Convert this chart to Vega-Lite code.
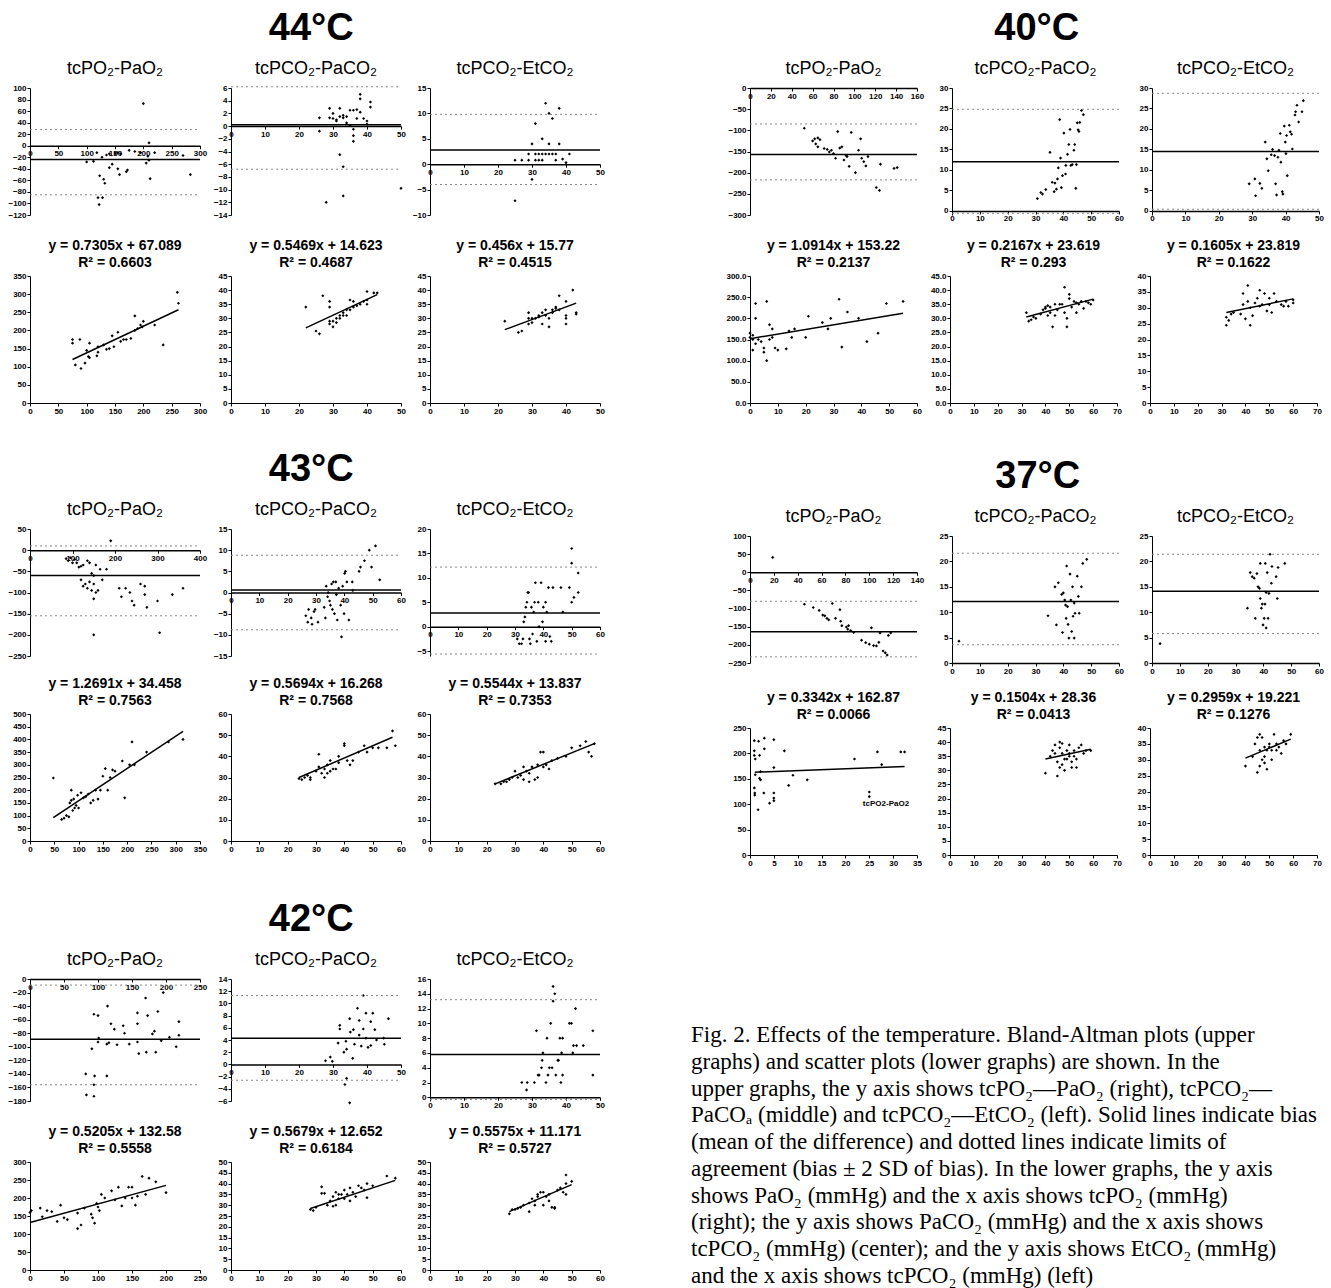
{
"$schema":"https://vega.github.io/schema/vega-lite/v6.json",
"background":"white",
"padding":{"left":7,"top":10,"right":3,"bottom":3},
"data":{"values":[
{"k":"a1","x":200,"y":73},{"k":"a1","x":100,"y":-28},{"k":"a1","x":112,"y":-27},{"k":"a1","x":118,"y":-12},{"k":"a1","x":123,"y":-52},{"k":"a1","x":127,"y":-20},{"k":"a1","x":130,"y":-58},{"k":"a1","x":132,"y":-65},{"k":"a1","x":120,"y":-90},{"k":"a1","x":128,"y":-90},{"k":"a1","x":122,"y":-102},{"k":"a1","x":140,"y":-38},{"k":"a1","x":145,"y":-32},{"k":"a1","x":150,"y":-14},{"k":"a1","x":155,"y":-12},{"k":"a1","x":160,"y":-14},{"k":"a1","x":155,"y":-40},{"k":"a1","x":158,"y":-50},{"k":"a1","x":170,"y":-45},{"k":"a1","x":172,"y":-42},{"k":"a1","x":175,"y":-8},{"k":"a1","x":185,"y":-10},{"k":"a1","x":195,"y":-12},{"k":"a1","x":210,"y":5},{"k":"a1","x":205,"y":-30},{"k":"a1","x":208,"y":-18},{"k":"a1","x":210,"y":-25},{"k":"a1","x":212,"y":-57},{"k":"a1","x":220,"y":-12},{"k":"a1","x":270,"y":-17},{"k":"a1","x":283,"y":-50},{"k":"a1","x":135,"y":-16},{"k":"a1","x":140,"y":-14},
{"k":"a1","t":"s","x":0,"y":-24,"x2":300,"y2":-24},{"k":"a1","t":"d","x":0,"y":28,"x2":300,"y2":28},{"k":"a1","t":"d","x":0,"y":-85,"x2":300,"y2":-85},
{"k":"a2","x":26,"y":1.3},{"k":"a2","x":26,"y":-0.8},{"k":"a2","x":29,"y":2.8},{"k":"a2","x":29,"y":1.3},{"k":"a2","x":30,"y":1.2},{"k":"a2","x":30,"y":2},{"k":"a2","x":31,"y":1},{"k":"a2","x":31,"y":0.8},{"k":"a2","x":32,"y":2.8},{"k":"a2","x":32,"y":1.5},{"k":"a2","x":33,"y":1.7},{"k":"a2","x":33,"y":1.3},{"k":"a2","x":34,"y":1.5},{"k":"a2","x":34,"y":0.5},{"k":"a2","x":35,"y":2.5},{"k":"a2","x":35,"y":0.1},{"k":"a2","x":36,"y":2.5},{"k":"a2","x":36,"y":-0.5},{"k":"a2","x":36,"y":-1.5},{"k":"a2","x":36,"y":-2.4},{"k":"a2","x":37,"y":2.6},{"k":"a2","x":37,"y":1.2},{"k":"a2","x":38,"y":5},{"k":"a2","x":38,"y":4.3},{"k":"a2","x":38,"y":2.2},{"k":"a2","x":39,"y":1.2},{"k":"a2","x":40,"y":0.8},{"k":"a2","x":40,"y":0.3},{"k":"a2","x":41,"y":3},{"k":"a2","x":41,"y":3.8},{"k":"a2","x":32,"y":-4.5},{"k":"a2","x":33,"y":-6.4},{"k":"a2","x":33,"y":-11},{"k":"a2","x":28,"y":-12},{"k":"a2","x":50,"y":-9.8},
{"k":"a2","t":"s","x":0,"y":0.2,"x2":50,"y2":0.2},{"k":"a2","t":"d","x":0,"y":6.2,"x2":50,"y2":6.2},{"k":"a2","t":"d","x":0,"y":-6.8,"x2":50,"y2":-6.8},
{"k":"a3","x":25,"y":0.8},{"k":"a3","x":25,"y":-7.2},{"k":"a3","x":27,"y":0.8},{"k":"a3","x":29,"y":0.8},{"k":"a3","x":29,"y":2},{"k":"a3","x":30,"y":4},{"k":"a3","x":30,"y":-3},{"k":"a3","x":31,"y":2},{"k":"a3","x":31,"y":8},{"k":"a3","x":31,"y":0.8},{"k":"a3","x":32,"y":2},{"k":"a3","x":33,"y":2},{"k":"a3","x":33,"y":0.8},{"k":"a3","x":33,"y":5},{"k":"a3","x":34,"y":2},{"k":"a3","x":34,"y":12},{"k":"a3","x":35,"y":2},{"k":"a3","x":35,"y":4},{"k":"a3","x":35,"y":10},{"k":"a3","x":36,"y":9},{"k":"a3","x":36,"y":2},{"k":"a3","x":37,"y":2},{"k":"a3","x":37,"y":0.8},{"k":"a3","x":38,"y":11},{"k":"a3","x":38,"y":4},{"k":"a3","x":39,"y":1},{"k":"a3","x":40,"y":0.3},{"k":"a3","x":41,"y":2},{"k":"a3","x":32,"y":0.8},
{"k":"a3","t":"s","x":0,"y":2.8,"x2":50,"y2":2.8},{"k":"a3","t":"d","x":0,"y":9.8,"x2":50,"y2":9.8},{"k":"a3","t":"d","x":0,"y":-4,"x2":50,"y2":-4},
{"k":"b1","x":75,"y":175},{"k":"b1","x":75,"y":165},{"k":"b1","x":88,"y":175},{"k":"b1","x":80,"y":105},{"k":"b1","x":90,"y":95},{"k":"b1","x":97,"y":110},{"k":"b1","x":100,"y":145},{"k":"b1","x":103,"y":128},{"k":"b1","x":105,"y":125},{"k":"b1","x":105,"y":165},{"k":"b1","x":118,"y":130},{"k":"b1","x":120,"y":140},{"k":"b1","x":120,"y":155},{"k":"b1","x":130,"y":160},{"k":"b1","x":135,"y":148},{"k":"b1","x":140,"y":150},{"k":"b1","x":145,"y":185},{"k":"b1","x":148,"y":155},{"k":"b1","x":155,"y":195},{"k":"b1","x":160,"y":170},{"k":"b1","x":165,"y":175},{"k":"b1","x":178,"y":178},{"k":"b1","x":185,"y":240},{"k":"b1","x":185,"y":200},{"k":"b1","x":190,"y":205},{"k":"b1","x":195,"y":215},{"k":"b1","x":200,"y":225},{"k":"b1","x":220,"y":215},{"k":"b1","x":235,"y":160},{"k":"b1","x":260,"y":305},{"k":"b1","x":262,"y":275},{"k":"b1","x":198,"y":210},{"k":"b1","x":170,"y":175},
{"k":"b1","t":"s","x":75,"y":120,"x2":262,"y2":257},
{"k":"b2","x":22,"y":34},{"k":"b2","x":25,"y":25.5},{"k":"b2","x":26,"y":24.5},{"k":"b2","x":27,"y":38},{"k":"b2","x":29,"y":36},{"k":"b2","x":29,"y":34},{"k":"b2","x":29,"y":29},{"k":"b2","x":29,"y":28},{"k":"b2","x":30,"y":27},{"k":"b2","x":30,"y":29},{"k":"b2","x":31,"y":28.5},{"k":"b2","x":31,"y":30},{"k":"b2","x":32,"y":31},{"k":"b2","x":32,"y":30},{"k":"b2","x":33,"y":31},{"k":"b2","x":33,"y":32},{"k":"b2","x":34,"y":33},{"k":"b2","x":34,"y":31},{"k":"b2","x":35,"y":36.5},{"k":"b2","x":35,"y":33},{"k":"b2","x":36,"y":36},{"k":"b2","x":36,"y":34},{"k":"b2","x":37,"y":34.5},{"k":"b2","x":38,"y":35},{"k":"b2","x":39,"y":36},{"k":"b2","x":40,"y":35},{"k":"b2","x":40,"y":39.5},{"k":"b2","x":40,"y":36.5},{"k":"b2","x":42,"y":39},{"k":"b2","x":43,"y":39},
{"k":"b2","t":"s","x":22,"y":26.6,"x2":43,"y2":38.4},
{"k":"b3","x":22,"y":29},{"k":"b3","x":26,"y":25},{"k":"b3","x":27,"y":25.5},{"k":"b3","x":29,"y":32},{"k":"b3","x":29,"y":30},{"k":"b3","x":29,"y":28},{"k":"b3","x":30,"y":28.5},{"k":"b3","x":30,"y":30},{"k":"b3","x":31,"y":30},{"k":"b3","x":32,"y":31},{"k":"b3","x":32,"y":30.5},{"k":"b3","x":33,"y":32},{"k":"b3","x":33,"y":28},{"k":"b3","x":34,"y":31},{"k":"b3","x":34,"y":33},{"k":"b3","x":35,"y":27},{"k":"b3","x":35,"y":30},{"k":"b3","x":36,"y":33},{"k":"b3","x":37,"y":34},{"k":"b3","x":38,"y":38},{"k":"b3","x":38,"y":33},{"k":"b3","x":40,"y":36},{"k":"b3","x":40,"y":31},{"k":"b3","x":40,"y":30},{"k":"b3","x":40,"y":28},{"k":"b3","x":42,"y":40},{"k":"b3","x":43,"y":32},{"k":"b3","x":43,"y":31.5},{"k":"b3","x":36,"y":32},{"k":"b3","x":37,"y":33.5},
{"k":"b3","t":"s","x":22,"y":26,"x2":43,"y2":35.4},
{"k":"c1","x":190,"y":22},{"k":"c1","x":85,"y":-20},{"k":"c1","x":90,"y":-25},{"k":"c1","x":95,"y":-18},{"k":"c1","x":100,"y":-30},{"k":"c1","x":105,"y":-22},{"k":"c1","x":110,"y":-30},{"k":"c1","x":115,"y":-40},{"k":"c1","x":120,"y":-38},{"k":"c1","x":125,"y":-35},{"k":"c1","x":135,"y":-25},{"k":"c1","x":140,"y":-30},{"k":"c1","x":145,"y":-55},{"k":"c1","x":150,"y":-60},{"k":"c1","x":155,"y":-35},{"k":"c1","x":165,"y":-45},{"k":"c1","x":180,"y":-45},{"k":"c1","x":120,"y":-70},{"k":"c1","x":125,"y":-85},{"k":"c1","x":130,"y":-80},{"k":"c1","x":135,"y":-90},{"k":"c1","x":140,"y":-75},{"k":"c1","x":145,"y":-95},{"k":"c1","x":150,"y":-80},{"k":"c1","x":155,"y":-100},{"k":"c1","x":160,"y":-95},{"k":"c1","x":170,"y":-70},{"k":"c1","x":150,"y":-115},{"k":"c1","x":150,"y":-200},{"k":"c1","x":210,"y":-90},{"k":"c1","x":215,"y":-110},{"k":"c1","x":225,"y":-90},{"k":"c1","x":235,"y":-100},{"k":"c1","x":240,"y":-120},{"k":"c1","x":245,"y":-130},{"k":"c1","x":260,"y":-80},{"k":"c1","x":270,"y":-85},{"k":"c1","x":270,"y":-105},{"k":"c1","x":275,"y":-135},{"k":"c1","x":300,"y":-120},{"k":"c1","x":305,"y":-195},{"k":"c1","x":335,"y":-105},{"k":"c1","x":360,"y":-90},
{"k":"c1","t":"s","x":0,"y":-60,"x2":400,"y2":-60},{"k":"c1","t":"d","x":0,"y":10,"x2":400,"y2":10},{"k":"c1","t":"d","x":0,"y":-155,"x2":400,"y2":-155},
{"k":"c2","x":26.4,"y":-5.5},{"k":"c2","x":27.1,"y":-7},{"k":"c2","x":27.4,"y":-4},{"k":"c2","x":28.3,"y":-6},{"k":"c2","x":28.6,"y":-7.5},{"k":"c2","x":29.3,"y":-4.5},{"k":"c2","x":29.7,"y":-4},{"k":"c2","x":30.7,"y":-7},{"k":"c2","x":32.9,"y":-3.5},{"k":"c2","x":33.3,"y":-6},{"k":"c2","x":33.6,"y":1.5},{"k":"c2","x":34.1,"y":-1},{"k":"c2","x":34.3,"y":0},{"k":"c2","x":34.8,"y":-2},{"k":"c2","x":35.1,"y":-3},{"k":"c2","x":35.5,"y":2},{"k":"c2","x":35.8,"y":-4},{"k":"c2","x":36.1,"y":2.5},{"k":"c2","x":36.5,"y":-5},{"k":"c2","x":37,"y":2.5},{"k":"c2","x":37.2,"y":-0.5},{"k":"c2","x":37.5,"y":-6.5},{"k":"c2","x":38,"y":1},{"k":"c2","x":38.7,"y":-3},{"k":"c2","x":39,"y":-10.5},{"k":"c2","x":39.9,"y":-5},{"k":"c2","x":40.1,"y":4.5},{"k":"c2","x":40.4,"y":5},{"k":"c2","x":40.9,"y":2.5},{"k":"c2","x":41.6,"y":-6.5},{"k":"c2","x":42.8,"y":2.5},{"k":"c2","x":45.2,"y":5},{"k":"c2","x":45.7,"y":6},{"k":"c2","x":47.1,"y":7.5},{"k":"c2","x":48.8,"y":10},{"k":"c2","x":49.6,"y":6},{"k":"c2","x":51,"y":11},{"k":"c2","x":52.5,"y":3},{"k":"c2","x":43,"y":0.5},{"k":"c2","x":39.4,"y":1.5},
{"k":"c2","t":"s","x":0,"y":0.6,"x2":60,"y2":0.6},{"k":"c2","t":"d","x":0,"y":8.8,"x2":60,"y2":8.8},{"k":"c2","t":"d","x":0,"y":-8.8,"x2":60,"y2":-8.8},
{"k":"c3","x":30.8,"y":-2.5},{"k":"c3","x":31.5,"y":-3.5},{"k":"c3","x":32.3,"y":-3.5},{"k":"c3","x":32.8,"y":-2.5},{"k":"c3","x":33.1,"y":1},{"k":"c3","x":33.5,"y":2},{"k":"c3","x":33.8,"y":4},{"k":"c3","x":34.2,"y":5},{"k":"c3","x":34.5,"y":7},{"k":"c3","x":34.8,"y":7},{"k":"c3","x":35.1,"y":-2.5},{"k":"c3","x":35.4,"y":-3.5},{"k":"c3","x":35.8,"y":4},{"k":"c3","x":36.2,"y":-1.5},{"k":"c3","x":36.6,"y":3},{"k":"c3","x":36.9,"y":5},{"k":"c3","x":37.2,"y":9},{"k":"c3","x":37.7,"y":-3},{"k":"c3","x":38.2,"y":5},{"k":"c3","x":38.5,"y":0},{"k":"c3","x":39.2,"y":9},{"k":"c3","x":39.7,"y":1},{"k":"c3","x":40,"y":4},{"k":"c3","x":40.8,"y":5},{"k":"c3","x":41.2,"y":3},{"k":"c3","x":41.8,"y":8},{"k":"c3","x":42.3,"y":-2},{"k":"c3","x":42.8,"y":-3},{"k":"c3","x":43.4,"y":8},{"k":"c3","x":46.2,"y":8},{"k":"c3","x":46.9,"y":3},{"k":"c3","x":49.2,"y":8},{"k":"c3","x":50,"y":5},{"k":"c3","x":50.8,"y":6},{"k":"c3","x":52.3,"y":7},{"k":"c3","x":52.3,"y":11},{"k":"c3","x":50,"y":13},{"k":"c3","x":50,"y":16},{"k":"c3","x":40.8,"y":-3},
{"k":"c3","t":"s","x":0,"y":2.8,"x2":60,"y2":2.8},{"k":"c3","t":"d","x":0,"y":12.2,"x2":60,"y2":12.2},{"k":"c3","t":"d","x":0,"y":-5.6,"x2":60,"y2":-5.6},
{"k":"d1","x":48,"y":248},{"k":"d1","x":65,"y":85},{"k":"d1","x":70,"y":90},{"k":"d1","x":75,"y":100},{"k":"d1","x":80,"y":95},{"k":"d1","x":82,"y":150},{"k":"d1","x":85,"y":160},{"k":"d1","x":85,"y":200},{"k":"d1","x":88,"y":120},{"k":"d1","x":90,"y":165},{"k":"d1","x":92,"y":130},{"k":"d1","x":95,"y":140},{"k":"d1","x":98,"y":180},{"k":"d1","x":100,"y":130},{"k":"d1","x":105,"y":190},{"k":"d1","x":110,"y":170},{"k":"d1","x":115,"y":175},{"k":"d1","x":120,"y":185},{"k":"d1","x":125,"y":150},{"k":"d1","x":130,"y":160},{"k":"d1","x":135,"y":200},{"k":"d1","x":140,"y":165},{"k":"d1","x":145,"y":200},{"k":"d1","x":150,"y":255},{"k":"d1","x":155,"y":285},{"k":"d1","x":160,"y":200},{"k":"d1","x":165,"y":250},{"k":"d1","x":170,"y":280},{"k":"d1","x":175,"y":275},{"k":"d1","x":190,"y":315},{"k":"d1","x":195,"y":170},{"k":"d1","x":205,"y":300},{"k":"d1","x":210,"y":390},{"k":"d1","x":215,"y":300},{"k":"d1","x":240,"y":350},{"k":"d1","x":285,"y":390},{"k":"d1","x":315,"y":400},
{"k":"d1","t":"s","x":48,"y":92,"x2":315,"y2":432},
{"k":"d2","x":24,"y":29.5},{"k":"d2","x":25,"y":29},{"k":"d2","x":26,"y":30},{"k":"d2","x":27,"y":31},{"k":"d2","x":28,"y":30},{"k":"d2","x":28,"y":29},{"k":"d2","x":30,"y":33},{"k":"d2","x":31,"y":35},{"k":"d2","x":31,"y":41},{"k":"d2","x":32,"y":32},{"k":"d2","x":33,"y":34},{"k":"d2","x":33,"y":30},{"k":"d2","x":34,"y":36},{"k":"d2","x":34,"y":32},{"k":"d2","x":35,"y":38},{"k":"d2","x":35,"y":33},{"k":"d2","x":36,"y":34},{"k":"d2","x":37,"y":34},{"k":"d2","x":38,"y":37},{"k":"d2","x":38,"y":40},{"k":"d2","x":40,"y":46},{"k":"d2","x":40,"y":45},{"k":"d2","x":41,"y":38},{"k":"d2","x":42,"y":36},{"k":"d2","x":43,"y":38},{"k":"d2","x":45,"y":42},{"k":"d2","x":47,"y":45},{"k":"d2","x":48,"y":42},{"k":"d2","x":50,"y":44},{"k":"d2","x":52,"y":44},{"k":"d2","x":55,"y":44},{"k":"d2","x":57,"y":52},{"k":"d2","x":58,"y":45},
{"k":"d2","t":"s","x":24,"y":30,"x2":57,"y2":49},
{"k":"d3","x":23,"y":27},{"k":"d3","x":25,"y":27},{"k":"d3","x":26,"y":28},{"k":"d3","x":27,"y":28},{"k":"d3","x":28,"y":29},{"k":"d3","x":29,"y":30},{"k":"d3","x":30,"y":33},{"k":"d3","x":31,"y":30},{"k":"d3","x":32,"y":31},{"k":"d3","x":33,"y":29},{"k":"d3","x":33,"y":35},{"k":"d3","x":34,"y":33},{"k":"d3","x":35,"y":28},{"k":"d3","x":35,"y":32},{"k":"d3","x":36,"y":35},{"k":"d3","x":37,"y":29},{"k":"d3","x":38,"y":30},{"k":"d3","x":38,"y":36},{"k":"d3","x":39,"y":42},{"k":"d3","x":40,"y":42},{"k":"d3","x":40,"y":35},{"k":"d3","x":41,"y":36},{"k":"d3","x":42,"y":34},{"k":"d3","x":43,"y":38},{"k":"d3","x":45,"y":39},{"k":"d3","x":48,"y":40},{"k":"d3","x":50,"y":44},{"k":"d3","x":53,"y":45},{"k":"d3","x":55,"y":47},{"k":"d3","x":56,"y":42},{"k":"d3","x":57,"y":40},{"k":"d3","x":58,"y":46},
{"k":"d3","t":"s","x":23,"y":27,"x2":58,"y2":46},
{"k":"e1","x":94,"y":-52},{"k":"e1","x":100,"y":-54},{"k":"e1","x":114,"y":-40},{"k":"e1","x":119,"y":-66},{"k":"e1","x":124,"y":-74},{"k":"e1","x":137,"y":-69},{"k":"e1","x":139,"y":-80},{"k":"e1","x":158,"y":-50},{"k":"e1","x":158,"y":-66},{"k":"e1","x":170,"y":-28},{"k":"e1","x":173,"y":-54},{"k":"e1","x":180,"y":-81},{"k":"e1","x":183,"y":-77},{"k":"e1","x":188,"y":-48},{"k":"e1","x":196,"y":-20},{"k":"e1","x":219,"y":-63},{"k":"e1","x":91,"y":-103},{"k":"e1","x":100,"y":-93},{"k":"e1","x":101,"y":-87},{"k":"e1","x":113,"y":-96},{"k":"e1","x":116,"y":-94},{"k":"e1","x":128,"y":-97},{"k":"e1","x":146,"y":-96},{"k":"e1","x":158,"y":-93},{"k":"e1","x":160,"y":-110},{"k":"e1","x":171,"y":-108},{"k":"e1","x":185,"y":-108},{"k":"e1","x":193,"y":-91},{"k":"e1","x":205,"y":-86},{"k":"e1","x":215,"y":-100},{"k":"e1","x":219,"y":-83},{"k":"e1","x":82,"y":-140},{"k":"e1","x":95,"y":-143},{"k":"e1","x":113,"y":-143},{"k":"e1","x":94,"y":-156},{"k":"e1","x":83,"y":-171},{"k":"e1","x":94,"y":-173},
{"k":"e1","t":"s","x":0,"y":-89,"x2":250,"y2":-89},{"k":"e1","t":"d","x":0,"y":-9,"x2":250,"y2":-9},{"k":"e1","t":"d","x":0,"y":-156,"x2":250,"y2":-156},
{"k":"e2","x":27.8,"y":0.6},{"k":"e2","x":29.2,"y":1.2},{"k":"e2","x":29.8,"y":0.5},{"k":"e2","x":31.5,"y":3.5},{"k":"e2","x":32,"y":5.8},{"k":"e2","x":32,"y":6.4},{"k":"e2","x":33.2,"y":2},{"k":"e2","x":33.8,"y":3.8},{"k":"e2","x":34,"y":2.5},{"k":"e2","x":34.9,"y":7.5},{"k":"e2","x":35.1,"y":5.3},{"k":"e2","x":36,"y":5.7},{"k":"e2","x":35.8,"y":1},{"k":"e2","x":37.2,"y":9.2},{"k":"e2","x":36.3,"y":3.3},{"k":"e2","x":37.7,"y":4.8},{"k":"e2","x":37.7,"y":7.2},{"k":"e2","x":38.3,"y":3},{"k":"e2","x":38.9,"y":5.8},{"k":"e2","x":39.7,"y":8.4},{"k":"e2","x":39.7,"y":4.3},{"k":"e2","x":40.3,"y":2.8},{"k":"e2","x":41.1,"y":7},{"k":"e2","x":41.1,"y":3.1},{"k":"e2","x":41.7,"y":8.4},{"k":"e2","x":42.3,"y":5.7},{"k":"e2","x":42.8,"y":4},{"k":"e2","x":38.9,"y":11.3},{"k":"e2","x":44.9,"y":4.3},{"k":"e2","x":45.1,"y":3.3},{"k":"e2","x":46.3,"y":7.5},{"k":"e2","x":34,"y":-2.3},{"k":"e2","x":33.5,"y":-3.3},{"k":"e2","x":34.9,"y":-6.3},
{"k":"e2","t":"s","x":0,"y":4.3,"x2":50,"y2":4.3},{"k":"e2","t":"d","x":0,"y":11.3,"x2":50,"y2":11.3},{"k":"e2","t":"d","x":0,"y":-2.6,"x2":50,"y2":-2.6},
{"k":"e3","x":27,"y":2},{"k":"e3","x":28.4,"y":1},{"k":"e3","x":28.6,"y":2},{"k":"e3","x":30.7,"y":2},{"k":"e3","x":31.3,"y":9},{"k":"e3","x":31.8,"y":3},{"k":"e3","x":32.1,"y":3},{"k":"e3","x":32.8,"y":4},{"k":"e3","x":33,"y":5},{"k":"e3","x":33.2,"y":6},{"k":"e3","x":34.1,"y":2},{"k":"e3","x":34.4,"y":8},{"k":"e3","x":34.7,"y":3},{"k":"e3","x":35.1,"y":4},{"k":"e3","x":35.5,"y":10},{"k":"e3","x":35.9,"y":4},{"k":"e3","x":36.2,"y":13},{"k":"e3","x":36.2,"y":15},{"k":"e3","x":36.7,"y":14},{"k":"e3","x":37,"y":3},{"k":"e3","x":37.6,"y":5},{"k":"e3","x":37.8,"y":5},{"k":"e3","x":38.2,"y":8},{"k":"e3","x":38.5,"y":2},{"k":"e3","x":38.7,"y":6},{"k":"e3","x":39,"y":8},{"k":"e3","x":39,"y":3},{"k":"e3","x":41,"y":10},{"k":"e3","x":41.6,"y":10},{"k":"e3","x":42,"y":6},{"k":"e3","x":42.2,"y":7},{"k":"e3","x":42.8,"y":12},{"k":"e3","x":43.1,"y":7},{"k":"e3","x":45.1,"y":7},{"k":"e3","x":47.9,"y":3},{"k":"e3","x":47.9,"y":9},
{"k":"e3","t":"s","x":0,"y":5.8,"x2":50,"y2":5.8},{"k":"e3","t":"d","x":0,"y":13.2,"x2":50,"y2":13.2},{"k":"e3","t":"d","x":0,"y":-0.3,"x2":50,"y2":-0.3},
{"k":"f1","x":0,"y":160},{"k":"f1","x":2,"y":165},{"k":"f1","x":15,"y":172},{"k":"f1","x":18,"y":148},{"k":"f1","x":25,"y":165},{"k":"f1","x":32,"y":162},{"k":"f1","x":45,"y":180},{"k":"f1","x":40,"y":135},{"k":"f1","x":50,"y":145},{"k":"f1","x":55,"y":140},{"k":"f1","x":70,"y":115},{"k":"f1","x":75,"y":125},{"k":"f1","x":70,"y":158},{"k":"f1","x":80,"y":172},{"k":"f1","x":90,"y":155},{"k":"f1","x":92,"y":145},{"k":"f1","x":95,"y":130},{"k":"f1","x":98,"y":185},{"k":"f1","x":100,"y":175},{"k":"f1","x":102,"y":165},{"k":"f1","x":105,"y":210},{"k":"f1","x":110,"y":200},{"k":"f1","x":120,"y":220},{"k":"f1","x":125,"y":195},{"k":"f1","x":130,"y":230},{"k":"f1","x":135,"y":178},{"k":"f1","x":140,"y":200},{"k":"f1","x":145,"y":230},{"k":"f1","x":150,"y":230},{"k":"f1","x":155,"y":180},{"k":"f1","x":158,"y":205},{"k":"f1","x":165,"y":260},{"k":"f1","x":170,"y":210},{"k":"f1","x":175,"y":255},{"k":"f1","x":185,"y":245},{"k":"f1","x":200,"y":215},{"k":"f1","x":150,"y":200},
{"k":"f1","t":"s","x":0,"y":132,"x2":200,"y2":235},
{"k":"f2","x":28,"y":28},{"k":"f2","x":29,"y":27.5},{"k":"f2","x":30,"y":29},{"k":"f2","x":32,"y":38.5},{"k":"f2","x":32,"y":35.5},{"k":"f2","x":33,"y":35.5},{"k":"f2","x":34,"y":30},{"k":"f2","x":35,"y":32},{"k":"f2","x":36,"y":29.5},{"k":"f2","x":36,"y":34},{"k":"f2","x":37,"y":36},{"k":"f2","x":37,"y":30},{"k":"f2","x":38,"y":33},{"k":"f2","x":38,"y":35},{"k":"f2","x":39,"y":35},{"k":"f2","x":40,"y":33},{"k":"f2","x":40,"y":37},{"k":"f2","x":41,"y":35},{"k":"f2","x":42,"y":32},{"k":"f2","x":42,"y":38},{"k":"f2","x":43,"y":36},{"k":"f2","x":44,"y":34},{"k":"f2","x":45,"y":39},{"k":"f2","x":46,"y":38},{"k":"f2","x":47,"y":37},{"k":"f2","x":48,"y":40},{"k":"f2","x":48,"y":33.5},{"k":"f2","x":50,"y":39},{"k":"f2","x":55,"y":43.5},{"k":"f2","x":58,"y":42.5},
{"k":"f2","t":"s","x":28,"y":28.5,"x2":58,"y2":41.5},
{"k":"f3","x":28,"y":26},{"k":"f3","x":29,"y":28},{"k":"f3","x":30,"y":28},{"k":"f3","x":31,"y":28.5},{"k":"f3","x":32,"y":29},{"k":"f3","x":33,"y":30},{"k":"f3","x":35,"y":31},{"k":"f3","x":35,"y":27},{"k":"f3","x":36,"y":33},{"k":"f3","x":37,"y":32},{"k":"f3","x":37,"y":30},{"k":"f3","x":38,"y":34},{"k":"f3","x":38,"y":35},{"k":"f3","x":39,"y":36},{"k":"f3","x":40,"y":36},{"k":"f3","x":40,"y":30},{"k":"f3","x":41,"y":34},{"k":"f3","x":42,"y":32},{"k":"f3","x":42,"y":35},{"k":"f3","x":43,"y":29},{"k":"f3","x":44,"y":29},{"k":"f3","x":44,"y":28.5},{"k":"f3","x":45,"y":37},{"k":"f3","x":46,"y":38},{"k":"f3","x":47,"y":36},{"k":"f3","x":48,"y":35},{"k":"f3","x":48,"y":44},{"k":"f3","x":48,"y":40},{"k":"f3","x":50,"y":41},
{"k":"f3","t":"s","x":28,"y":27,"x2":50,"y2":39.5},
{"k":"g1","x":52,"y":-95},{"k":"g1","x":60,"y":-125},{"k":"g1","x":62,"y":-120},{"k":"g1","x":63,"y":-132},{"k":"g1","x":65,"y":-118},{"k":"g1","x":65,"y":-139},{"k":"g1","x":67,"y":-122},{"k":"g1","x":71,"y":-143},{"k":"g1","x":74,"y":-145},{"k":"g1","x":76,"y":-151},{"k":"g1","x":78,"y":-147},{"k":"g1","x":80,"y":-155},{"k":"g1","x":82,"y":-166},{"k":"g1","x":84,"y":-103},{"k":"g1","x":86,"y":-142},{"k":"g1","x":88,"y":-139},{"k":"g1","x":90,"y":-170},{"k":"g1","x":92,"y":-159},{"k":"g1","x":93,"y":-162},{"k":"g1","x":95,"y":-185},{"k":"g1","x":97,"y":-105},{"k":"g1","x":101,"y":-200},{"k":"g1","x":104,"y":-147},{"k":"g1","x":106,"y":-120},{"k":"g1","x":107,"y":-166},{"k":"g1","x":109,"y":-174},{"k":"g1","x":111,"y":-184},{"k":"g1","x":113,"y":-162},{"k":"g1","x":121,"y":-235},{"k":"g1","x":124,"y":-242},{"k":"g1","x":125,"y":-180},{"k":"g1","x":138,"y":-190},{"k":"g1","x":141,"y":-188},
{"k":"g1","t":"s","x":0,"y":-157,"x2":160,"y2":-157},{"k":"g1","t":"d","x":0,"y":-85,"x2":160,"y2":-85},{"k":"g1","t":"d","x":0,"y":-217,"x2":160,"y2":-217},
{"k":"g2","x":30.7,"y":3},{"k":"g2","x":31.9,"y":4.5},{"k":"g2","x":32.5,"y":4.1},{"k":"g2","x":33.7,"y":5.2},{"k":"g2","x":35.2,"y":14.3},{"k":"g2","x":36,"y":7},{"k":"g2","x":36.7,"y":4.7},{"k":"g2","x":37,"y":6.8},{"k":"g2","x":37.5,"y":5.3},{"k":"g2","x":37.9,"y":7.8},{"k":"g2","x":38.2,"y":10.5},{"k":"g2","x":39,"y":12.9},{"k":"g2","x":38.7,"y":22.3},{"k":"g2","x":39.3,"y":5.7},{"k":"g2","x":39.7,"y":8.6},{"k":"g2","x":40.2,"y":19},{"k":"g2","x":40.8,"y":9},{"k":"g2","x":40.9,"y":11.1},{"k":"g2","x":41.5,"y":13.8},{"k":"g2","x":42,"y":16.2},{"k":"g2","x":42.4,"y":19.9},{"k":"g2","x":42.7,"y":11.1},{"k":"g2","x":43.2,"y":11.3},{"k":"g2","x":43.8,"y":14.8},{"k":"g2","x":44.1,"y":16.2},{"k":"g2","x":44.5,"y":5.5},{"k":"g2","x":44.7,"y":11.3},{"k":"g2","x":45,"y":21.5},{"k":"g2","x":45.3,"y":19.8},{"k":"g2","x":45.6,"y":19.4},{"k":"g2","x":45.9,"y":21.6},{"k":"g2","x":46.5,"y":24.5},{"k":"g2","x":47.2,"y":23.5},
{"k":"g2","t":"s","x":0,"y":12,"x2":60,"y2":12},{"k":"g2","t":"d","x":0,"y":24.8,"x2":60,"y2":24.8},{"k":"g2","t":"d","x":0,"y":-0.6,"x2":60,"y2":-0.6},
{"k":"g3","x":29.1,"y":6.6},{"k":"g3","x":30.8,"y":7.8},{"k":"g3","x":31,"y":3.7},{"k":"g3","x":32.3,"y":6.7},{"k":"g3","x":32.9,"y":5.5},{"k":"g3","x":33.9,"y":16.8},{"k":"g3","x":34.4,"y":12.7},{"k":"g3","x":34.8,"y":9.8},{"k":"g3","x":35.7,"y":13.7},{"k":"g3","x":36.1,"y":15},{"k":"g3","x":36.7,"y":13.5},{"k":"g3","x":37,"y":6.6},{"k":"g3","x":37.3,"y":3.9},{"k":"g3","x":37.7,"y":13.1},{"k":"g3","x":38,"y":14.8},{"k":"g3","x":38.4,"y":18.9},{"k":"g3","x":38.6,"y":11.9},{"k":"g3","x":39,"y":4.7},{"k":"g3","x":39.2,"y":4.1},{"k":"g3","x":39.6,"y":20.7},{"k":"g3","x":39.9,"y":16.8},{"k":"g3","x":40.1,"y":14},{"k":"g3","x":40.3,"y":18.4},{"k":"g3","x":40.5,"y":8.6},{"k":"g3","x":41.1,"y":20.9},{"k":"g3","x":41.4,"y":19.3},{"k":"g3","x":41.8,"y":18.7},{"k":"g3","x":42,"y":15.1},{"k":"g3","x":42.8,"y":23.4},{"k":"g3","x":43,"y":24.2},{"k":"g3","x":43.4,"y":25.8},{"k":"g3","x":43.9,"y":21.7},{"k":"g3","x":44.9,"y":24.2},{"k":"g3","x":45.3,"y":26.9},
{"k":"g3","t":"s","x":0,"y":14.5,"x2":50,"y2":14.5},{"k":"g3","t":"d","x":0,"y":28.7,"x2":50,"y2":28.7},{"k":"g3","t":"d","x":0,"y":0.4,"x2":50,"y2":0.4},
{"k":"h1","x":0,"y":155},{"k":"h1","x":0,"y":165},{"k":"h1","x":1,"y":150},{"k":"h1","x":1,"y":160},{"k":"h1","x":1,"y":125},{"k":"h1","x":2,"y":200},{"k":"h1","x":2,"y":140},{"k":"h1","x":2,"y":235},{"k":"h1","x":3,"y":150},{"k":"h1","x":4,"y":145},{"k":"h1","x":5,"y":130},{"k":"h1","x":5,"y":120},{"k":"h1","x":6,"y":240},{"k":"h1","x":6,"y":100},{"k":"h1","x":7,"y":150},{"k":"h1","x":7,"y":185},{"k":"h1","x":8,"y":175},{"k":"h1","x":8,"y":155},{"k":"h1","x":9,"y":130},{"k":"h1","x":10,"y":125},{"k":"h1","x":13,"y":128},{"k":"h1","x":14,"y":170},{"k":"h1","x":15,"y":155},{"k":"h1","x":16,"y":175},{"k":"h1","x":20,"y":155},{"k":"h1","x":21,"y":205},{"k":"h1","x":26,"y":190},{"k":"h1","x":28,"y":175},{"k":"h1","x":29,"y":200},{"k":"h1","x":32,"y":245},{"k":"h1","x":33,"y":132},{"k":"h1","x":35,"y":215},{"k":"h1","x":39,"y":200},{"k":"h1","x":42,"y":145},{"k":"h1","x":46,"y":165},{"k":"h1","x":49,"y":235},{"k":"h1","x":55,"y":240},
{"k":"h1","t":"s","x":0,"y":152,"x2":55,"y2":212},
{"k":"h2","x":32,"y":32},{"k":"h2","x":33,"y":29},{"k":"h2","x":34,"y":29.5},{"k":"h2","x":35,"y":30.5},{"k":"h2","x":36,"y":30},{"k":"h2","x":38,"y":31.5},{"k":"h2","x":39,"y":33},{"k":"h2","x":40,"y":34},{"k":"h2","x":40,"y":33.5},{"k":"h2","x":41,"y":34.5},{"k":"h2","x":41,"y":31},{"k":"h2","x":42,"y":32},{"k":"h2","x":42,"y":34},{"k":"h2","x":43,"y":27},{"k":"h2","x":44,"y":35},{"k":"h2","x":44,"y":31},{"k":"h2","x":45,"y":33},{"k":"h2","x":46,"y":35},{"k":"h2","x":47,"y":35},{"k":"h2","x":48,"y":41},{"k":"h2","x":48,"y":32},{"k":"h2","x":49,"y":27},{"k":"h2","x":49,"y":30},{"k":"h2","x":50,"y":37},{"k":"h2","x":50,"y":38.5},{"k":"h2","x":51,"y":34},{"k":"h2","x":52,"y":36},{"k":"h2","x":53,"y":32},{"k":"h2","x":53,"y":35.5},{"k":"h2","x":54,"y":35},{"k":"h2","x":55,"y":36},{"k":"h2","x":56,"y":33.5},{"k":"h2","x":57,"y":36},{"k":"h2","x":58,"y":35.5},{"k":"h2","x":59,"y":35},{"k":"h2","x":60,"y":36.5},
{"k":"h2","t":"s","x":32,"y":30.5,"x2":60,"y2":36.8},
{"k":"h3","x":32,"y":24.5},{"k":"h3","x":32,"y":27},{"k":"h3","x":33,"y":26},{"k":"h3","x":34,"y":28},{"k":"h3","x":35,"y":28.5},{"k":"h3","x":38,"y":28},{"k":"h3","x":39,"y":31},{"k":"h3","x":39,"y":34.5},{"k":"h3","x":40,"y":26.5},{"k":"h3","x":41,"y":37},{"k":"h3","x":41,"y":32},{"k":"h3","x":42,"y":24.5},{"k":"h3","x":42,"y":30},{"k":"h3","x":43,"y":27.5},{"k":"h3","x":44,"y":31.5},{"k":"h3","x":45,"y":33},{"k":"h3","x":46,"y":35.5},{"k":"h3","x":46,"y":30.5},{"k":"h3","x":47,"y":31},{"k":"h3","x":48,"y":34.5},{"k":"h3","x":49,"y":29},{"k":"h3","x":50,"y":33},{"k":"h3","x":50,"y":31},{"k":"h3","x":51,"y":28.5},{"k":"h3","x":52,"y":34.5},{"k":"h3","x":53,"y":32},{"k":"h3","x":55,"y":31},{"k":"h3","x":56,"y":30.5},{"k":"h3","x":57,"y":32},{"k":"h3","x":58,"y":30.5},{"k":"h3","x":60,"y":31.5},{"k":"h3","x":60,"y":32.5},
{"k":"h3","t":"s","x":32,"y":28.5,"x2":60,"y2":32.8},
{"k":"i1","x":19,"y":41},{"k":"i1","x":45.6,"y":-88},{"k":"i1","x":53,"y":-97},{"k":"i1","x":58,"y":-105},{"k":"i1","x":61,"y":-118},{"k":"i1","x":62.7,"y":-120},{"k":"i1","x":64.5,"y":-127},{"k":"i1","x":66,"y":-131},{"k":"i1","x":69,"y":-86},{"k":"i1","x":71.7,"y":-127},{"k":"i1","x":75.4,"y":-103},{"k":"i1","x":76,"y":-135},{"k":"i1","x":77,"y":-147},{"k":"i1","x":80.8,"y":-151},{"k":"i1","x":82,"y":-157},{"k":"i1","x":82.6,"y":-147},{"k":"i1","x":84.4,"y":-161},{"k":"i1","x":87,"y":-166},{"k":"i1","x":93.5,"y":-187},{"k":"i1","x":97,"y":-194},{"k":"i1","x":100,"y":-198},{"k":"i1","x":101.8,"y":-153},{"k":"i1","x":103.6,"y":-202},{"k":"i1","x":106,"y":-203},{"k":"i1","x":108,"y":-193},{"k":"i1","x":109,"y":-167},{"k":"i1","x":111.6,"y":-217},{"k":"i1","x":113.4,"y":-222},{"k":"i1","x":115,"y":-228},{"k":"i1","x":116,"y":-174},{"k":"i1","x":118,"y":-167},
{"k":"i1","t":"s","x":0,"y":-164,"x2":140,"y2":-164},{"k":"i1","t":"d","x":0,"y":-80,"x2":140,"y2":-80},{"k":"i1","t":"d","x":0,"y":-233,"x2":140,"y2":-233},
{"k":"i2","x":2.5,"y":4.3},{"k":"i2","x":34.5,"y":9.3},{"k":"i2","x":37,"y":15},{"k":"i2","x":37.5,"y":7.5},{"k":"i2","x":38.2,"y":15.8},{"k":"i2","x":39.4,"y":13.5},{"k":"i2","x":39.7,"y":6},{"k":"i2","x":40,"y":13.8},{"k":"i2","x":40.5,"y":12.4},{"k":"i2","x":40.8,"y":11.4},{"k":"i2","x":41,"y":8.8},{"k":"i2","x":41.2,"y":19.1},{"k":"i2","x":41.5,"y":11.1},{"k":"i2","x":41.7,"y":7.6},{"k":"i2","x":42,"y":4.9},{"k":"i2","x":42.4,"y":17.5},{"k":"i2","x":42.7,"y":12.4},{"k":"i2","x":43,"y":6.2},{"k":"i2","x":43.3,"y":15},{"k":"i2","x":43.5,"y":9.2},{"k":"i2","x":43.9,"y":11.8},{"k":"i2","x":44.2,"y":9.8},{"k":"i2","x":45,"y":17.1},{"k":"i2","x":45.4,"y":13.1},{"k":"i2","x":45.7,"y":9.8},{"k":"i2","x":46.5,"y":15},{"k":"i2","x":47,"y":19.6},{"k":"i2","x":48.4,"y":20.4},{"k":"i2","x":43.9,"y":4.9},
{"k":"i2","t":"s","x":0,"y":12.1,"x2":60,"y2":12.1},{"k":"i2","t":"d","x":0,"y":21.6,"x2":60,"y2":21.6},{"k":"i2","t":"d","x":0,"y":3.6,"x2":60,"y2":3.6},
{"k":"i3","x":2.9,"y":3.8},{"k":"i3","x":34.3,"y":10.8},{"k":"i3","x":35.3,"y":17.8},{"k":"i3","x":36,"y":17},{"k":"i3","x":36.7,"y":16.7},{"k":"i3","x":37.1,"y":8.8},{"k":"i3","x":37.7,"y":17.6},{"k":"i3","x":38.1,"y":15},{"k":"i3","x":38.6,"y":14.7},{"k":"i3","x":38.9,"y":12.7},{"k":"i3","x":38.9,"y":19.6},{"k":"i3","x":39.3,"y":10.8},{"k":"i3","x":39.6,"y":11.6},{"k":"i3","x":39.9,"y":7.5},{"k":"i3","x":40.3,"y":8.8},{"k":"i3","x":40.6,"y":11.6},{"k":"i3","x":40.7,"y":19.6},{"k":"i3","x":41,"y":13.9},{"k":"i3","x":41,"y":6.9},{"k":"i3","x":41.4,"y":17.8},{"k":"i3","x":41.7,"y":8.8},{"k":"i3","x":42,"y":13.7},{"k":"i3","x":42.4,"y":21.4},{"k":"i3","x":42.9,"y":15.7},{"k":"i3","x":43.1,"y":19},{"k":"i3","x":44.6,"y":17},{"k":"i3","x":45,"y":12.7},{"k":"i3","x":45.3,"y":18.8},{"k":"i3","x":47.7,"y":19.6},
{"k":"i3","t":"s","x":0,"y":14.1,"x2":60,"y2":14.1},{"k":"i3","t":"d","x":0,"y":21.4,"x2":60,"y2":21.4},{"k":"i3","t":"d","x":0,"y":5.8,"x2":60,"y2":5.8},
{"k":"j1","x":0.9,"y":225},{"k":"j1","x":0.9,"y":205},{"k":"j1","x":0.9,"y":196},{"k":"j1","x":1.1,"y":189},{"k":"j1","x":1.1,"y":158},{"k":"j1","x":0.9,"y":132},{"k":"j1","x":1,"y":122},{"k":"j1","x":1,"y":118},{"k":"j1","x":1.8,"y":224},{"k":"j1","x":2,"y":196},{"k":"j1","x":2.2,"y":164},{"k":"j1","x":2,"y":151},{"k":"j1","x":2.2,"y":148},{"k":"j1","x":1.7,"y":89},{"k":"j1","x":3,"y":230},{"k":"j1","x":3,"y":209},{"k":"j1","x":2.9,"y":122},{"k":"j1","x":4.1,"y":102},{"k":"j1","x":5,"y":227},{"k":"j1","x":5,"y":172},{"k":"j1","x":5,"y":122},{"k":"j1","x":5,"y":112},{"k":"j1","x":5,"y":107},{"k":"j1","x":7.2,"y":205},{"k":"j1","x":8.1,"y":137},{"k":"j1","x":9,"y":157},{"k":"j1","x":12,"y":148},{"k":"j1","x":21.9,"y":189},{"k":"j1","x":25,"y":124},{"k":"j1","x":25,"y":115},{"k":"j1","x":26.7,"y":203},{"k":"j1","x":27.6,"y":178},{"k":"j1","x":31.6,"y":203},{"k":"j1","x":32.4,"y":203},
{"k":"j1","t":"s","x":1,"y":163,"x2":32.4,"y2":174},{"k":"j1","t":"t","x":28.5,"y":100,"s":"tcPO2-PaO2"},
{"k":"j2","x":40,"y":29},{"k":"j2","x":42,"y":35},{"k":"j2","x":43,"y":37},{"k":"j2","x":44,"y":39},{"k":"j2","x":44,"y":36},{"k":"j2","x":45,"y":28},{"k":"j2","x":45,"y":33},{"k":"j2","x":46,"y":40},{"k":"j2","x":46,"y":38},{"k":"j2","x":46,"y":31},{"k":"j2","x":47,"y":39.5},{"k":"j2","x":47,"y":36},{"k":"j2","x":47,"y":32},{"k":"j2","x":48,"y":34},{"k":"j2","x":48,"y":30},{"k":"j2","x":49,"y":37},{"k":"j2","x":49,"y":34},{"k":"j2","x":50,"y":39},{"k":"j2","x":50,"y":36},{"k":"j2","x":50,"y":35},{"k":"j2","x":51,"y":33},{"k":"j2","x":51,"y":31},{"k":"j2","x":52,"y":37},{"k":"j2","x":52,"y":35},{"k":"j2","x":53,"y":31},{"k":"j2","x":53,"y":34},{"k":"j2","x":54,"y":38},{"k":"j2","x":55,"y":39},{"k":"j2","x":56,"y":36},{"k":"j2","x":57,"y":37},{"k":"j2","x":59,"y":37},
{"k":"j2","t":"s","x":40,"y":34,"x2":59,"y2":37.5},
{"k":"j3","x":40,"y":28},{"k":"j3","x":43,"y":31},{"k":"j3","x":44,"y":35},{"k":"j3","x":45,"y":37},{"k":"j3","x":45,"y":26},{"k":"j3","x":46,"y":38},{"k":"j3","x":46,"y":33},{"k":"j3","x":46,"y":28},{"k":"j3","x":47,"y":37},{"k":"j3","x":47,"y":30},{"k":"j3","x":48,"y":34},{"k":"j3","x":48,"y":31},{"k":"j3","x":48,"y":29},{"k":"j3","x":49,"y":27},{"k":"j3","x":49,"y":33},{"k":"j3","x":50,"y":35},{"k":"j3","x":50,"y":34},{"k":"j3","x":51,"y":33},{"k":"j3","x":51,"y":30},{"k":"j3","x":52,"y":38},{"k":"j3","x":53,"y":35},{"k":"j3","x":53,"y":33},{"k":"j3","x":54,"y":34},{"k":"j3","x":55,"y":32},{"k":"j3","x":56,"y":36},{"k":"j3","x":57,"y":35},{"k":"j3","x":59,"y":38},
{"k":"j3","t":"s","x":40,"y":30.5,"x2":59,"y2":36.5}
]},
"config":{
"font":"Liberation Sans",
"view":{"continuousWidth":170,"continuousHeight":127,"stroke":null},
"axis":{"grid":false,"labelFont":"Liberation Sans","labelFontSize":8,"labelFontWeight":"bold","labelColor":"black","domainColor":"black","tickColor":"black","tickSize":3,"labelPadding":1,"labelOverlap":false,"labelFlush":false},
"axisY":{"minExtent":22,"maxExtent":22},
"title":{"font":"Liberation Sans","fontSize":14,"fontWeight":"bold","color":"black","anchor":"middle","frame":"group","baseline":"bottom","offset":2,"lineHeight":17},
"point":{"shape":"diamond","filled":true,"size":10,"color":"black","opacity":1},
"rule":{"color":"black","strokeWidth":1.5},
"text":{"color":"black"}
},
"spacing":86,
"hconcat":[
{"vconcat":[
{"vconcat":[
{"title":{"text":"44°C","fontSize":38,"offset":12,"frame":"bounds","dx":5},"spacing":20,"vconcat":[
{"spacing":2,"hconcat":[
{"title":{"text":"tcPO₂-PaO₂","fontWeight":"normal","fontSize":18,"offset":6},"transform":[{"filter":"datum.k=='a1'"}],"encoding":{"x":{"field":"x","type":"quantitative","title":null,"scale":{"domain":[0,300]},"axis":{"values":[0,50,100,150,200,250,300],"offset":-69.3,"domainWidth":1.5}},"y":{"field":"y","type":"quantitative","title":null,"scale":{"domain":[-120,100]},"axis":{"values":[-120,-100,-80,-60,-40,-20,0,20,40,60,80,100]}}},"layer":[{"transform":[{"filter":"!datum.t"}],"mark":"point"},{"transform":[{"filter":"datum.t=='s'"}],"mark":"rule","encoding":{"x2":{"field":"x2"},"y2":{"field":"y2"}}},{"transform":[{"filter":"datum.t=='d'"}],"mark":{"type":"rule","color":"#888","strokeWidth":1,"strokeDash":[2,3]},"encoding":{"x2":{"field":"x2"},"y2":{"field":"y2"}}}]},
{"title":{"text":"tcPCO₂-PaCO₂","fontWeight":"normal","fontSize":18,"offset":6},"transform":[{"filter":"datum.k=='a2'"}],"encoding":{"x":{"field":"x","type":"quantitative","title":null,"scale":{"domain":[0,50]},"axis":{"values":[0,10,20,30,40,50],"offset":-88.9,"domainWidth":1.5}},"y":{"field":"y","type":"quantitative","title":null,"scale":{"domain":[-14,6]},"axis":{"values":[-14,-12,-10,-8,-6,-4,-2,0,2,4,6]}}},"layer":[{"transform":[{"filter":"!datum.t"}],"mark":"point"},{"transform":[{"filter":"datum.t=='s'"}],"mark":"rule","encoding":{"x2":{"field":"x2"},"y2":{"field":"y2"}}},{"transform":[{"filter":"datum.t=='d'"}],"mark":{"type":"rule","color":"#888","strokeWidth":1,"strokeDash":[2,3]},"encoding":{"x2":{"field":"x2"},"y2":{"field":"y2"}}}]},
{"title":{"text":"tcPCO₂-EtCO₂","fontWeight":"normal","fontSize":18,"offset":6},"transform":[{"filter":"datum.k=='a3'"}],"encoding":{"x":{"field":"x","type":"quantitative","title":null,"scale":{"domain":[0,50]},"axis":{"values":[0,10,20,30,40,50],"offset":-50.8,"domainWidth":1.5}},"y":{"field":"y","type":"quantitative","title":null,"scale":{"domain":[-10,15]},"axis":{"values":[-10,-5,0,5,10,15]}}},"layer":[{"transform":[{"filter":"!datum.t"}],"mark":"point"},{"transform":[{"filter":"datum.t=='s'"}],"mark":"rule","encoding":{"x2":{"field":"x2"},"y2":{"field":"y2"}}},{"transform":[{"filter":"datum.t=='d'"}],"mark":{"type":"rule","color":"#888","strokeWidth":1,"strokeDash":[2,3]},"encoding":{"x2":{"field":"x2"},"y2":{"field":"y2"}}}]}
]},
{"spacing":2,"hconcat":[
{"title":["y = 0.7305x + 67.089","R² = 0.6603"],"transform":[{"filter":"datum.k=='b1'"}],"encoding":{"x":{"field":"x","type":"quantitative","title":null,"scale":{"domain":[0,300]},"axis":{"values":[0,50,100,150,200,250,300]}},"y":{"field":"y","type":"quantitative","title":null,"scale":{"domain":[0,350]},"axis":{"values":[0,50,100,150,200,250,300,350]}}},"layer":[{"transform":[{"filter":"!datum.t"}],"mark":"point"},{"transform":[{"filter":"datum.t=='s'"}],"mark":"rule","encoding":{"x2":{"field":"x2"},"y2":{"field":"y2"}}}]},
{"title":["y = 0.5469x + 14.623","R² = 0.4687"],"transform":[{"filter":"datum.k=='b2'"}],"encoding":{"x":{"field":"x","type":"quantitative","title":null,"scale":{"domain":[0,50]},"axis":{"values":[0,10,20,30,40,50]}},"y":{"field":"y","type":"quantitative","title":null,"scale":{"domain":[0,45]},"axis":{"values":[0,5,10,15,20,25,30,35,40,45]}}},"layer":[{"transform":[{"filter":"!datum.t"}],"mark":"point"},{"transform":[{"filter":"datum.t=='s'"}],"mark":"rule","encoding":{"x2":{"field":"x2"},"y2":{"field":"y2"}}}]},
{"title":["y = 0.456x + 15.77","R² = 0.4515"],"transform":[{"filter":"datum.k=='b3'"}],"encoding":{"x":{"field":"x","type":"quantitative","title":null,"scale":{"domain":[0,50]},"axis":{"values":[0,10,20,30,40,50]}},"y":{"field":"y","type":"quantitative","title":null,"scale":{"domain":[0,45]},"axis":{"values":[0,5,10,15,20,25,30,35,40,45]}}},"layer":[{"transform":[{"filter":"!datum.t"}],"mark":"point"},{"transform":[{"filter":"datum.t=='s'"}],"mark":"rule","encoding":{"x2":{"field":"x2"},"y2":{"field":"y2"}}}]}
]}
]},
{"title":{"text":"43°C","fontSize":38,"offset":12,"frame":"bounds","dx":5},"spacing":17,"vconcat":[
{"spacing":2,"hconcat":[
{"title":{"text":"tcPO₂-PaO₂","fontWeight":"normal","fontSize":18,"offset":6},"transform":[{"filter":"datum.k=='c1'"}],"encoding":{"x":{"field":"x","type":"quantitative","title":null,"scale":{"domain":[0,400]},"axis":{"values":[0,100,200,300,400],"offset":-105.8,"domainWidth":1.5}},"y":{"field":"y","type":"quantitative","title":null,"scale":{"domain":[-250,50]},"axis":{"values":[-250,-200,-150,-100,-50,0,50]}}},"layer":[{"transform":[{"filter":"!datum.t"}],"mark":"point"},{"transform":[{"filter":"datum.t=='s'"}],"mark":"rule","encoding":{"x2":{"field":"x2"},"y2":{"field":"y2"}}},{"transform":[{"filter":"datum.t=='d'"}],"mark":{"type":"rule","color":"#888","strokeWidth":1,"strokeDash":[2,3]},"encoding":{"x2":{"field":"x2"},"y2":{"field":"y2"}}}]},
{"title":{"text":"tcPCO₂-PaCO₂","fontWeight":"normal","fontSize":18,"offset":6},"transform":[{"filter":"datum.k=='c2'"}],"encoding":{"x":{"field":"x","type":"quantitative","title":null,"scale":{"domain":[0,60]},"axis":{"values":[0,10,20,30,40,50,60],"offset":-63.5,"domainWidth":1.5}},"y":{"field":"y","type":"quantitative","title":null,"scale":{"domain":[-15,15]},"axis":{"values":[-15,-10,-5,0,5,10,15]}}},"layer":[{"transform":[{"filter":"!datum.t"}],"mark":"point"},{"transform":[{"filter":"datum.t=='s'"}],"mark":"rule","encoding":{"x2":{"field":"x2"},"y2":{"field":"y2"}}},{"transform":[{"filter":"datum.t=='d'"}],"mark":{"type":"rule","color":"#888","strokeWidth":1,"strokeDash":[2,3]},"encoding":{"x2":{"field":"x2"},"y2":{"field":"y2"}}}]},
{"title":{"text":"tcPCO₂-EtCO₂","fontWeight":"normal","fontSize":18,"offset":6},"transform":[{"filter":"datum.k=='c3'"}],"encoding":{"x":{"field":"x","type":"quantitative","title":null,"scale":{"domain":[0,60]},"axis":{"values":[0,10,20,30,40,50,60],"offset":-29.3,"domainWidth":1.5}},"y":{"field":"y","type":"quantitative","title":null,"scale":{"domain":[-6,20]},"axis":{"values":[-5,0,5,10,15,20]}}},"layer":[{"transform":[{"filter":"!datum.t"}],"mark":"point"},{"transform":[{"filter":"datum.t=='s'"}],"mark":"rule","encoding":{"x2":{"field":"x2"},"y2":{"field":"y2"}}},{"transform":[{"filter":"datum.t=='d'"}],"mark":{"type":"rule","color":"#888","strokeWidth":1,"strokeDash":[2,3]},"encoding":{"x2":{"field":"x2"},"y2":{"field":"y2"}}}]}
]},
{"spacing":2,"hconcat":[
{"title":["y = 1.2691x + 34.458","R² = 0.7563"],"transform":[{"filter":"datum.k=='d1'"}],"encoding":{"x":{"field":"x","type":"quantitative","title":null,"scale":{"domain":[0,350]},"axis":{"values":[0,50,100,150,200,250,300,350]}},"y":{"field":"y","type":"quantitative","title":null,"scale":{"domain":[0,500]},"axis":{"values":[0,50,100,150,200,250,300,350,400,450,500]}}},"layer":[{"transform":[{"filter":"!datum.t"}],"mark":"point"},{"transform":[{"filter":"datum.t=='s'"}],"mark":"rule","encoding":{"x2":{"field":"x2"},"y2":{"field":"y2"}}}]},
{"title":["y = 0.5694x + 16.268","R² = 0.7568"],"transform":[{"filter":"datum.k=='d2'"}],"encoding":{"x":{"field":"x","type":"quantitative","title":null,"scale":{"domain":[0,60]},"axis":{"values":[0,10,20,30,40,50,60]}},"y":{"field":"y","type":"quantitative","title":null,"scale":{"domain":[0,60]},"axis":{"values":[0,10,20,30,40,50,60]}}},"layer":[{"transform":[{"filter":"!datum.t"}],"mark":"point"},{"transform":[{"filter":"datum.t=='s'"}],"mark":"rule","encoding":{"x2":{"field":"x2"},"y2":{"field":"y2"}}}]},
{"title":["y = 0.5544x + 13.837","R² = 0.7353"],"transform":[{"filter":"datum.k=='d3'"}],"encoding":{"x":{"field":"x","type":"quantitative","title":null,"scale":{"domain":[0,60]},"axis":{"values":[0,10,20,30,40,50,60]}},"y":{"field":"y","type":"quantitative","title":null,"scale":{"domain":[0,60]},"axis":{"values":[0,10,20,30,40,50,60]}}},"layer":[{"transform":[{"filter":"!datum.t"}],"mark":"point"},{"transform":[{"filter":"datum.t=='s'"}],"mark":"rule","encoding":{"x2":{"field":"x2"},"y2":{"field":"y2"}}}]}
]}
]}
],"spacing":36},
{"title":{"text":"42°C","fontSize":38,"offset":12,"frame":"bounds","dx":5},"spacing":15,"vconcat":[
{"spacing":2,"hconcat":[
{"height":122,"title":{"text":"tcPO₂-PaO₂","fontWeight":"normal","fontSize":18,"offset":6},"transform":[{"filter":"datum.k=='e1'"}],"encoding":{"x":{"field":"x","type":"quantitative","title":null,"scale":{"domain":[0,250]},"axis":{"values":[0,50,100,150,200,250],"offset":-122,"domainWidth":1.5}},"y":{"field":"y","type":"quantitative","title":null,"scale":{"domain":[-180,0]},"axis":{"values":[-180,-160,-140,-120,-100,-80,-60,-40,-20,0]}}},"layer":[{"transform":[{"filter":"!datum.t"}],"mark":"point"},{"transform":[{"filter":"datum.t=='s'"}],"mark":"rule","encoding":{"x2":{"field":"x2"},"y2":{"field":"y2"}}},{"transform":[{"filter":"datum.t=='d'"}],"mark":{"type":"rule","color":"#888","strokeWidth":1,"strokeDash":[2,3]},"encoding":{"x2":{"field":"x2"},"y2":{"field":"y2"}}}]},
{"height":122,"title":{"text":"tcPCO₂-PaCO₂","fontWeight":"normal","fontSize":18,"offset":6},"transform":[{"filter":"datum.k=='e2'"}],"encoding":{"x":{"field":"x","type":"quantitative","title":null,"scale":{"domain":[0,50]},"axis":{"values":[0,10,20,30,40,50],"offset":-36.6,"domainWidth":1.5}},"y":{"field":"y","type":"quantitative","title":null,"scale":{"domain":[-6,14]},"axis":{"values":[-6,-4,-2,0,2,4,6,8,10,12,14]}}},"layer":[{"transform":[{"filter":"!datum.t"}],"mark":"point"},{"transform":[{"filter":"datum.t=='s'"}],"mark":"rule","encoding":{"x2":{"field":"x2"},"y2":{"field":"y2"}}},{"transform":[{"filter":"datum.t=='d'"}],"mark":{"type":"rule","color":"#888","strokeWidth":1,"strokeDash":[2,3]},"encoding":{"x2":{"field":"x2"},"y2":{"field":"y2"}}}]},
{"height":122,"title":{"text":"tcPCO₂-EtCO₂","fontWeight":"normal","fontSize":18,"offset":6},"transform":[{"filter":"datum.k=='e3'"}],"encoding":{"x":{"field":"x","type":"quantitative","title":null,"scale":{"domain":[0,50]},"axis":{"values":[0,10,20,30,40,50],"offset":-3.7,"domainWidth":1.5}},"y":{"field":"y","type":"quantitative","title":null,"scale":{"domain":[-0.5,16]},"axis":{"values":[0,2,4,6,8,10,12,14,16]}}},"layer":[{"transform":[{"filter":"!datum.t"}],"mark":"point"},{"transform":[{"filter":"datum.t=='s'"}],"mark":"rule","encoding":{"x2":{"field":"x2"},"y2":{"field":"y2"}}},{"transform":[{"filter":"datum.t=='d'"}],"mark":{"type":"rule","color":"#888","strokeWidth":1,"strokeDash":[2,3]},"encoding":{"x2":{"field":"x2"},"y2":{"field":"y2"}}}]}
]},
{"spacing":2,"hconcat":[
{"height":108,"title":["y = 0.5205x + 132.58","R² = 0.5558"],"transform":[{"filter":"datum.k=='f1'"}],"encoding":{"x":{"field":"x","type":"quantitative","title":null,"scale":{"domain":[0,250]},"axis":{"values":[0,50,100,150,200,250]}},"y":{"field":"y","type":"quantitative","title":null,"scale":{"domain":[0,300]},"axis":{"values":[0,50,100,150,200,250,300]}}},"layer":[{"transform":[{"filter":"!datum.t"}],"mark":"point"},{"transform":[{"filter":"datum.t=='s'"}],"mark":"rule","encoding":{"x2":{"field":"x2"},"y2":{"field":"y2"}}}]},
{"height":108,"title":["y = 0.5679x + 12.652","R² = 0.6184"],"transform":[{"filter":"datum.k=='f2'"}],"encoding":{"x":{"field":"x","type":"quantitative","title":null,"scale":{"domain":[0,60]},"axis":{"values":[0,10,20,30,40,50,60]}},"y":{"field":"y","type":"quantitative","title":null,"scale":{"domain":[0,50]},"axis":{"values":[0,5,10,15,20,25,30,35,40,45,50]}}},"layer":[{"transform":[{"filter":"!datum.t"}],"mark":"point"},{"transform":[{"filter":"datum.t=='s'"}],"mark":"rule","encoding":{"x2":{"field":"x2"},"y2":{"field":"y2"}}}]},
{"height":108,"title":["y = 0.5575x + 11.171","R² = 0.5727"],"transform":[{"filter":"datum.k=='f3'"}],"encoding":{"x":{"field":"x","type":"quantitative","title":null,"scale":{"domain":[0,60]},"axis":{"values":[0,10,20,30,40,50,60]}},"y":{"field":"y","type":"quantitative","title":null,"scale":{"domain":[0,50]},"axis":{"values":[0,5,10,15,20,25,30,35,40,45,50]}}},"layer":[{"transform":[{"filter":"!datum.t"}],"mark":"point"},{"transform":[{"filter":"datum.t=='s'"}],"mark":"rule","encoding":{"x2":{"field":"x2"},"y2":{"field":"y2"}}}]}
]}
]}
],"spacing":48},
{"vconcat":[
{"vconcat":[
{"title":{"text":"40°C","fontSize":38,"offset":12,"frame":"bounds","dx":12},"spacing":16,"vconcat":[
{"spacing":6,"hconcat":[
{"width":167,"title":{"text":"tcPO₂-PaO₂","fontWeight":"normal","fontSize":18,"offset":6},"transform":[{"filter":"datum.k=='g1'"}],"encoding":{"x":{"field":"x","type":"quantitative","title":null,"scale":{"domain":[0,160]},"axis":{"values":[0,20,40,60,80,100,120,140,160],"offset":-127,"domainWidth":1.5}},"y":{"field":"y","type":"quantitative","title":null,"scale":{"domain":[-300,0]},"axis":{"values":[-300,-250,-200,-150,-100,-50,0]}}},"layer":[{"transform":[{"filter":"!datum.t"}],"mark":"point"},{"transform":[{"filter":"datum.t=='s'"}],"mark":"rule","encoding":{"x2":{"field":"x2"},"y2":{"field":"y2"}}},{"transform":[{"filter":"datum.t=='d'"}],"mark":{"type":"rule","color":"#888","strokeWidth":1,"strokeDash":[2,3]},"encoding":{"x2":{"field":"x2"},"y2":{"field":"y2"}}}]},
{"width":167,"title":{"text":"tcPCO₂-PaCO₂","fontWeight":"normal","fontSize":18,"offset":6},"transform":[{"filter":"datum.k=='g2'"}],"encoding":{"x":{"field":"x","type":"quantitative","title":null,"scale":{"domain":[0,60]},"axis":{"values":[0,10,20,30,40,50,60],"offset":-4.1,"domainWidth":1.5}},"y":{"field":"y","type":"quantitative","title":null,"scale":{"domain":[-1,30]},"axis":{"values":[0,5,10,15,20,25,30]}}},"layer":[{"transform":[{"filter":"!datum.t"}],"mark":"point"},{"transform":[{"filter":"datum.t=='s'"}],"mark":"rule","encoding":{"x2":{"field":"x2"},"y2":{"field":"y2"}}},{"transform":[{"filter":"datum.t=='d'"}],"mark":{"type":"rule","color":"#888","strokeWidth":1,"strokeDash":[2,3]},"encoding":{"x2":{"field":"x2"},"y2":{"field":"y2"}}}]},
{"width":167,"title":{"text":"tcPCO₂-EtCO₂","fontWeight":"normal","fontSize":18,"offset":6},"transform":[{"filter":"datum.k=='g3'"}],"encoding":{"x":{"field":"x","type":"quantitative","title":null,"scale":{"domain":[0,50]},"axis":{"values":[0,10,20,30,40,50],"offset":-4.1,"domainWidth":1.5}},"y":{"field":"y","type":"quantitative","title":null,"scale":{"domain":[-1,30]},"axis":{"values":[0,5,10,15,20,25,30]}}},"layer":[{"transform":[{"filter":"!datum.t"}],"mark":"point"},{"transform":[{"filter":"datum.t=='s'"}],"mark":"rule","encoding":{"x2":{"field":"x2"},"y2":{"field":"y2"}}},{"transform":[{"filter":"datum.t=='d'"}],"mark":{"type":"rule","color":"#888","strokeWidth":1,"strokeDash":[2,3]},"encoding":{"x2":{"field":"x2"},"y2":{"field":"y2"}}}]}
]},
{"spacing":6,"hconcat":[
{"width":167,"title":["y = 1.0914x + 153.22","R² = 0.2137"],"transform":[{"filter":"datum.k=='h1'"}],"encoding":{"x":{"field":"x","type":"quantitative","title":null,"scale":{"domain":[0,60]},"axis":{"values":[0,10,20,30,40,50,60]}},"y":{"field":"y","type":"quantitative","title":null,"scale":{"domain":[0,300]},"axis":{"values":[0,50,100,150,200,250,300],"format":".1f"}}},"layer":[{"transform":[{"filter":"!datum.t"}],"mark":"point"},{"transform":[{"filter":"datum.t=='s'"}],"mark":"rule","encoding":{"x2":{"field":"x2"},"y2":{"field":"y2"}}}]},
{"width":167,"title":["y = 0.2167x + 23.619","R² = 0.293"],"transform":[{"filter":"datum.k=='h2'"}],"encoding":{"x":{"field":"x","type":"quantitative","title":null,"scale":{"domain":[0,70]},"axis":{"values":[0,10,20,30,40,50,60,70]}},"y":{"field":"y","type":"quantitative","title":null,"scale":{"domain":[0,45]},"axis":{"values":[0,5,10,15,20,25,30,35,40,45],"format":".1f"}}},"layer":[{"transform":[{"filter":"!datum.t"}],"mark":"point"},{"transform":[{"filter":"datum.t=='s'"}],"mark":"rule","encoding":{"x2":{"field":"x2"},"y2":{"field":"y2"}}}]},
{"width":167,"title":["y = 0.1605x + 23.819","R² = 0.1622"],"transform":[{"filter":"datum.k=='h3'"}],"encoding":{"x":{"field":"x","type":"quantitative","title":null,"scale":{"domain":[0,70]},"axis":{"values":[0,10,20,30,40,50,60,70]}},"y":{"field":"y","type":"quantitative","title":null,"scale":{"domain":[0,40]},"axis":{"values":[0,5,10,15,20,25,30,35,40]}}},"layer":[{"transform":[{"filter":"!datum.t"}],"mark":"point"},{"transform":[{"filter":"datum.t=='s'"}],"mark":"rule","encoding":{"x2":{"field":"x2"},"y2":{"field":"y2"}}}]}
]}
]},
{"title":{"text":"37°C","fontSize":38,"offset":12,"frame":"bounds","dx":12},"spacing":16,"vconcat":[
{"spacing":6,"hconcat":[
{"width":167,"title":{"text":"tcPO₂-PaO₂","fontWeight":"normal","fontSize":18,"offset":6},"transform":[{"filter":"datum.k=='i1'"}],"encoding":{"x":{"field":"x","type":"quantitative","title":null,"scale":{"domain":[0,140]},"axis":{"values":[0,20,40,60,80,100,120,140],"offset":-90.7,"domainWidth":1.5}},"y":{"field":"y","type":"quantitative","title":null,"scale":{"domain":[-250,100]},"axis":{"values":[-250,-200,-150,-100,-50,0,50,100]}}},"layer":[{"transform":[{"filter":"!datum.t"}],"mark":"point"},{"transform":[{"filter":"datum.t=='s'"}],"mark":"rule","encoding":{"x2":{"field":"x2"},"y2":{"field":"y2"}}},{"transform":[{"filter":"datum.t=='d'"}],"mark":{"type":"rule","color":"#888","strokeWidth":1,"strokeDash":[2,3]},"encoding":{"x2":{"field":"x2"},"y2":{"field":"y2"}}}]},
{"width":167,"title":{"text":"tcPCO₂-PaCO₂","fontWeight":"normal","fontSize":18,"offset":6},"transform":[{"filter":"datum.k=='i2'"}],"encoding":{"x":{"field":"x","type":"quantitative","title":null,"scale":{"domain":[0,60]},"axis":{"values":[0,10,20,30,40,50,60],"domainWidth":1.5}},"y":{"field":"y","type":"quantitative","title":null,"scale":{"domain":[0,25]},"axis":{"values":[0,5,10,15,20,25]}}},"layer":[{"transform":[{"filter":"!datum.t"}],"mark":"point"},{"transform":[{"filter":"datum.t=='s'"}],"mark":"rule","encoding":{"x2":{"field":"x2"},"y2":{"field":"y2"}}},{"transform":[{"filter":"datum.t=='d'"}],"mark":{"type":"rule","color":"#888","strokeWidth":1,"strokeDash":[2,3]},"encoding":{"x2":{"field":"x2"},"y2":{"field":"y2"}}}]},
{"width":167,"title":{"text":"tcPCO₂-EtCO₂","fontWeight":"normal","fontSize":18,"offset":6},"transform":[{"filter":"datum.k=='i3'"}],"encoding":{"x":{"field":"x","type":"quantitative","title":null,"scale":{"domain":[0,60]},"axis":{"values":[0,10,20,30,40,50,60],"domainWidth":1.5}},"y":{"field":"y","type":"quantitative","title":null,"scale":{"domain":[0,25]},"axis":{"values":[0,5,10,15,20,25]}}},"layer":[{"transform":[{"filter":"!datum.t"}],"mark":"point"},{"transform":[{"filter":"datum.t=='s'"}],"mark":"rule","encoding":{"x2":{"field":"x2"},"y2":{"field":"y2"}}},{"transform":[{"filter":"datum.t=='d'"}],"mark":{"type":"rule","color":"#888","strokeWidth":1,"strokeDash":[2,3]},"encoding":{"x2":{"field":"x2"},"y2":{"field":"y2"}}}]}
]},
{"spacing":6,"hconcat":[
{"width":167,"title":["y = 0.3342x + 162.87","R² = 0.0066"],"transform":[{"filter":"datum.k=='j1'"}],"encoding":{"x":{"field":"x","type":"quantitative","title":null,"scale":{"domain":[0,35]},"axis":{"values":[0,5,10,15,20,25,30,35]}},"y":{"field":"y","type":"quantitative","title":null,"scale":{"domain":[0,250]},"axis":{"values":[0,50,100,150,200,250]}}},"layer":[{"transform":[{"filter":"!datum.t"}],"mark":"point"},{"transform":[{"filter":"datum.t=='s'"}],"mark":"rule","encoding":{"x2":{"field":"x2"},"y2":{"field":"y2"}}},{"transform":[{"filter":"datum.t=='t'"}],"mark":{"type":"text","fontSize":8,"fontWeight":"bold","font":"Liberation Sans"},"encoding":{"text":{"field":"s"}}}]},
{"width":167,"title":["y = 0.1504x + 28.36","R² = 0.0413"],"transform":[{"filter":"datum.k=='j2'"}],"encoding":{"x":{"field":"x","type":"quantitative","title":null,"scale":{"domain":[0,70]},"axis":{"values":[0,10,20,30,40,50,60,70]}},"y":{"field":"y","type":"quantitative","title":null,"scale":{"domain":[0,45]},"axis":{"values":[0,5,10,15,20,25,30,35,40,45]}}},"layer":[{"transform":[{"filter":"!datum.t"}],"mark":"point"},{"transform":[{"filter":"datum.t=='s'"}],"mark":"rule","encoding":{"x2":{"field":"x2"},"y2":{"field":"y2"}}}]},
{"width":167,"title":["y = 0.2959x + 19.221","R² = 0.1276"],"transform":[{"filter":"datum.k=='j3'"}],"encoding":{"x":{"field":"x","type":"quantitative","title":null,"scale":{"domain":[0,70]},"axis":{"values":[0,10,20,30,40,50,60,70]}},"y":{"field":"y","type":"quantitative","title":null,"scale":{"domain":[0,40]},"axis":{"values":[0,5,10,15,20,25,30,35,40]}}},"layer":[{"transform":[{"filter":"!datum.t"}],"mark":"point"},{"transform":[{"filter":"datum.t=='s'"}],"mark":"rule","encoding":{"x2":{"field":"x2"},"y2":{"field":"y2"}}}]}
]}
]}
],"spacing":43},
{"width":620,"height":267,
"data":{"values":[
{"n":1,"s":"Fig. 2. Effects of the temperature. Bland-Altman plots (upper"},
{"n":2,"s":"graphs) and scatter plots (lower graphs) are shown. In the"},
{"n":3,"s":"upper graphs, the y axis shows tcPO₂—PaO₂ (right), tcPCO₂—"},
{"n":4,"s":"PaCOₐ (middle) and tcPCO₂—EtCO₂ (left). Solid lines indicate bias"},
{"n":5,"s":"(mean of the difference) and dotted lines indicate limits of"},
{"n":6,"s":"agreement (bias ± 2 SD of bias). In the lower graphs, the y axis"},
{"n":7,"s":"shows PaO₂ (mmHg) and the x axis shows tcPO₂ (mmHg)"},
{"n":8,"s":"(right); the y axis shows PaCO₂ (mmHg) and the x axis shows"},
{"n":9,"s":"tcPCO₂ (mmHg) (center); and the y axis shows EtCO₂ (mmHg)"},
{"n":10,"s":"and the x axis shows tcPCO₂ (mmHg) (left)"}
]},
"mark":{"type":"text","align":"left","baseline":"middle","font":"Liberation Serif","fontSize":23,"dx":-59},
"encoding":{"x":{"datum":0,"type":"quantitative","scale":{"domain":[0,1]},"axis":null},"y":{"field":"n","type":"ordinal","axis":null},"text":{"field":"s"}}}
],"spacing":155}
]
}
